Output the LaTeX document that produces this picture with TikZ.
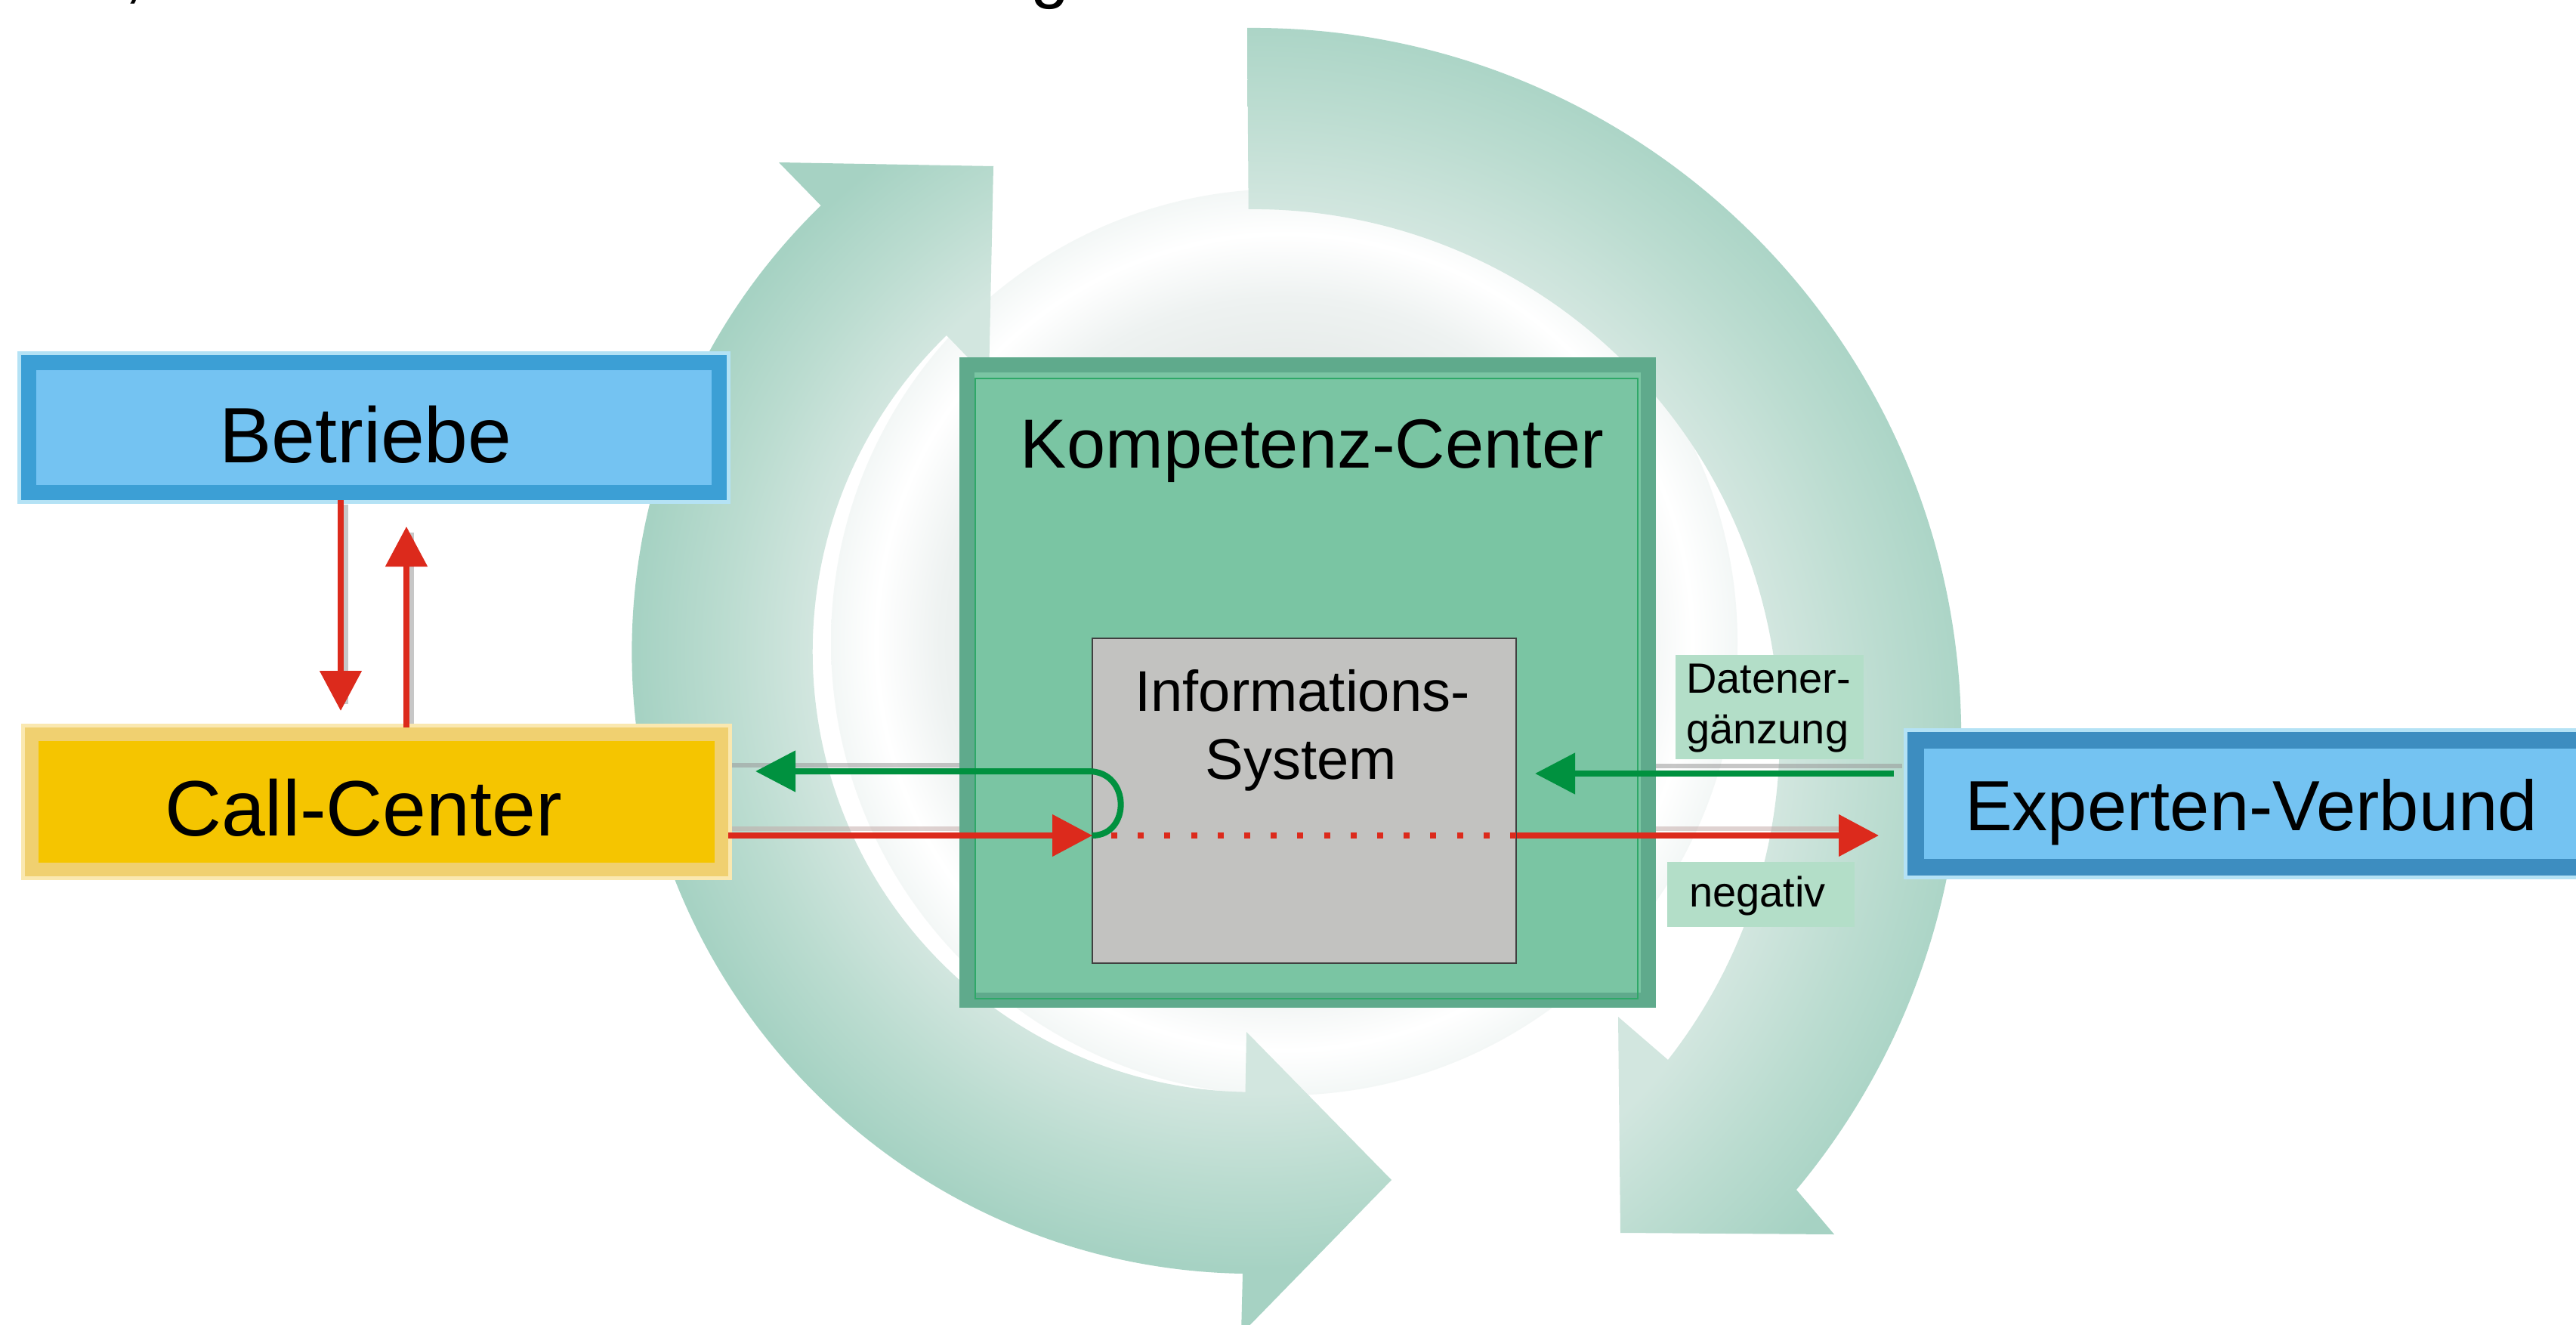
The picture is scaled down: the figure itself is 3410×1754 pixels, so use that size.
\documentclass[tikz,border=0pt]{standalone}
\usepackage{fontspec}
\setmainfont{Liberation Sans}
\usetikzlibrary{arrows.meta,calc}
\definecolor{bfill}{HTML}{74C3F2}
\definecolor{bbord}{HTML}{3C9FD5}
\definecolor{bglow}{HTML}{B4E2F5}
\definecolor{ebord}{HTML}{3D8DC0}
\definecolor{cfill}{HTML}{F5C500}
\definecolor{cbord}{HTML}{F0D070}
\definecolor{cglow}{HTML}{FAE8B0}
\definecolor{kfill}{HTML}{7AC5A3}
\definecolor{kbord}{HTML}{5FAA8C}
\definecolor{kline}{HTML}{2FA868}
\definecolor{ifill}{HTML}{C2C2C0}
\definecolor{lfill}{HTML}{B3DEC8}
\definecolor{rred}{HTML}{DC2A1C}
\definecolor{ggreen}{HTML}{00913F}
\definecolor{ringin}{HTML}{D2E6DF}
\definecolor{ringmid}{HTML}{BBDCD0}
\definecolor{ringout}{HTML}{A6D2C3}
\definecolor{diskc}{HTML}{DADFDE}
\definecolor{diskm}{HTML}{E0E5E3}
\definecolor{diskw}{HTML}{EEF2F1}
\definecolor{diske}{HTML}{F3F7F6}
\pgfdeclareradialshading{ringshade}{\pgfpoint{0bp}{0bp}}{color(0bp)=(ringin); color(15bp)=(ringin); color(18bp)=(ringmid); color(21bp)=(ringout); color(25bp)=(ringout); color(50bp)=(ringout)}
\pgfdeclareradialshading{diskshade}{\pgfpoint{0bp}{0bp}}{color(0bp)=(diskc); color(12bp)=(diskm); color(19bp)=(diskw); color(22.5bp)=(white); color(25bp)=(diske); color(50bp)=(diske)}
\begin{document}
\begin{tikzpicture}[x=0.5pt,y=-0.5pt,
  txt/.style={inner sep=0pt, anchor=base},
  redarr/.style={draw=rred, line width=4pt, -{Triangle[length=26.5pt,width=27pt]}},
  greenarr/.style={draw=ggreen, line width=4pt, -{Triangle[length=26.5pt,width=26.5pt]}},
  shadowline/.style={draw=gray!80, line width=3pt, opacity=0.55},
  pinkshadow/.style={draw=rred!25!gray!60, line width=3pt, opacity=0.5},
  bluebox/.style={rectangle, fill=bfill, line width=10pt, inner sep=0pt},
  labbox/.style={rectangle, fill=lfill, inner sep=0pt}]
\useasboundingbox (0,0) rectangle (3410,1754);
\clip (0,0) rectangle (3410,1754);
\fill[white] (0,0) rectangle (3410,1754);
% cut-off text fragments at the top edge
\node[txt, font=\fontsize{46}{50}\selectfont] (topa) at (177,-6) {,};
\node[txt, font=\fontsize{46}{50}\selectfont] (topb) at (1390,-6) {g};
% background: soft disk and two circular arrows
\shade[shading=diskshade] (1700,850) circle (600);
\begin{scope}
\clip (1651,37) arc[start angle=-90.5,end angle=39.9,radius=937]
  -- (2428,1634) -- (2145,1632) -- (2142,1346) -- (2208,1403)
  arc[start angle=38,end angle=-90.5,radius=697] -- cycle;
\shade[shading=ringshade] (1659,974) circle (1162);
\end{scope}
\begin{scope}
\clip (1645,1686) arc[start angle=91,end angle=225.9,radius=823]
  -- (1031,215) -- (1315,220) -- (1309,502) -- (1253,444)
  arc[start angle=225.9,end angle=91,radius=583]
  -- (1650,1366) -- (1842,1562) -- (1643,1766) -- cycle;
\shade[shading=ringshade] (1659,863) circle (972);
\end{scope}
% soft shadows of the connectors
\draw[shadowline] (957,1013) -- (1290,1013);
\draw[shadowline] (2168,1014) -- (2518,1014);
\draw[pinkshadow] (964,1097) -- (1290,1097);
\draw[pinkshadow] (2168,1097) -- (2462,1097);
\draw[shadowline] (458,668) -- (458,932);
\draw[shadowline] (545,968) -- (545,705);
% boxes
\node[bluebox, draw=bbord, minimum width=457pt, minimum height=86pt,
      preaction={draw=bglow, line width=15pt}] (betr) at (495,566) {};
\node[rectangle, fill=cfill, draw=cbord, line width=9pt, inner sep=0pt,
      minimum width=456.5pt, minimum height=89.5pt,
      preaction={draw=cglow, line width=14pt}] (call) at (498.5,1061.5) {};
\node[rectangle, fill=kfill, draw=kbord, line width=10pt, inner sep=0pt,
      minimum width=451pt, minimum height=420.5pt] (komp) at (1731,903.5) {};
\draw[kline, line width=0.8pt] (1291,501) rectangle (2168,1322);
\node[rectangle, fill=ifill, draw=black!75, line width=0.8pt, inner sep=0pt,
      minimum width=280.5pt, minimum height=215pt] (info) at (1726.5,1060) {};
\node[bluebox, draw=ebord, line width=11pt, minimum width=462pt, minimum height=84pt,
      preaction={draw=bglow, line width=16pt}] (exp) at (2998,1064) {};
\node[labbox, minimum width=124.5pt, minimum height=69pt] (lab1) at (2342.5,936) {};
\node[labbox, minimum width=124pt, minimum height=43pt] (lab2) at (2331,1184) {};
% texts
\node[txt, font=\fontsize{52}{60}\selectfont] (tbetr) at (484,612) {Betriebe};
\node[txt, font=\fontsize{52}{60}\selectfont] (tcall) at (481,1106) {Call-Center};
\node[txt, font=\fontsize{46}{54}\selectfont] (tkomp) at (1737,619) {Kompetenz-Center};
\node[txt, font=\fontsize{38}{45}\selectfont] (tinfo1) at (1724,941) {Informations-};
\node[txt, font=\fontsize{38}{45}\selectfont] (tinfo2) at (1722,1031) {System};
\node[txt, font=\fontsize{47}{54}\selectfont] (texp) at (2980,1099) {Experten-Verbund};
\node[txt, anchor=base west, font=\fontsize{28}{33}\selectfont] (tlab1a) at (2232,917) {Datener-};
\node[txt, anchor=base west, font=\fontsize{28}{33}\selectfont] (tlab1b) at (2232,984) {gänzung};
\node[txt, anchor=base west, font=\fontsize{28}{33}\selectfont] (tlab2) at (2236,1200) {negativ};
% connectors
\coordinate (d1) at (451,941);
\coordinate (u1) at (538,697);
\coordinate (r1) at (1446,1106);
\coordinate (r2) at (2487,1106);
\coordinate (g1) at (2032,1024);
\coordinate (g2) at (1000,1021);
\draw[redarr] (betr.south -| d1) -- (d1);
\draw[redarr] (call.north -| u1) -- (u1);
\draw[redarr] (call.east |- r1) -- (r1);
\draw[rred, line width=4pt, dash pattern=on 4pt off 13.6pt, dash phase=5.1pt] (r1) -- (info.east |- r1);
\draw[redarr] (info.east |- r2) -- (r2);
\draw[greenarr] ([xshift=-9pt]exp.west |- g1) -- (g1);
\draw[greenarr] (r1) .. controls (1497,1106) and (1497,1021) .. (1441,1021) -- (g2);
\end{tikzpicture}
\end{document}
